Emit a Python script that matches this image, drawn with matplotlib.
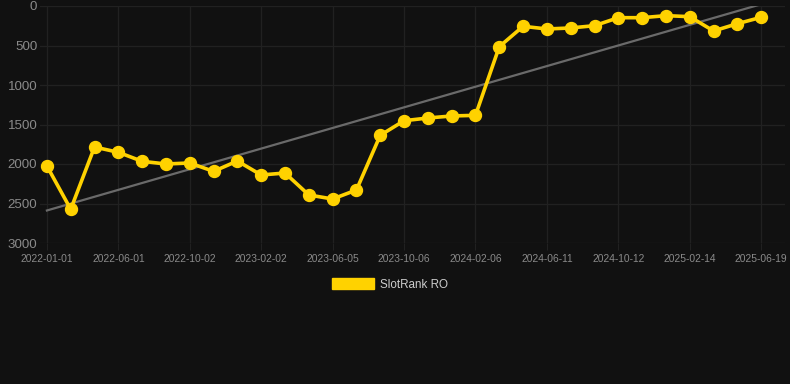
import numpy as np
import matplotlib
matplotlib.use("Agg")
import matplotlib.pyplot as plt
from matplotlib.patches import Patch

plt.rcParams['font.family'] = ['Liberation Sans', 'DejaVu Sans']

tick_labels = ["2022-01-01", "2022-06-01", "2022-10-02", "2023-02-02", "2023-06-05",
               "2023-10-06", "2024-02-06", "2024-06-11", "2024-10-12", "2025-02-14",
               "2025-06-19"]
rank_values = [2025, 2573, 1785, 1852, 1966, 2000, 1987, 2093, 1962, 2139, 2114,
               2392, 2443, 2329, 1637, 1452, 1418, 1392, 1384, 515, 257, 291, 278,
               249, 148, 148, 122, 135, 316, 224, 143]
series_name = "SlotRank RO"

bg = "#111111"
gold = "#FFD200"
grid_c = "#212121"
text_c = "#8a8a8a"

fig = plt.figure(figsize=(7.9, 3.84), dpi=100, facecolor=bg)
ax = fig.add_axes([40/790, (384-243)/384, 745/790, 237/384], facecolor=bg)

x = np.arange(len(rank_values))
y = np.array(rank_values, dtype=float)

# trend line (least squares)
k, b = np.polyfit(x, y, 1)
ax.plot([x[0], x[-1]], [k*x[0]+b, k*x[-1]+b], color="#6a6a6a", lw=1.6, zorder=2)

ax.plot(x, y, color=gold, lw=2.6, marker='o', markersize=8.6,
        markerfacecolor=gold, markeredgecolor=gold, zorder=3)

ax.set_ylim(3000, 0)
ax.set_xlim(-0.29, 31.0)
ax.set_yticks([0, 500, 1000, 1500, 2000, 2500, 3000])
tick_pos = np.arange(0, len(rank_values), 3)
ax.set_xticks(tick_pos)
ax.set_xticklabels(tick_labels)

ax.grid(True, color=grid_c, lw=0.9)
ax.set_axisbelow(True)
for s in ax.spines.values():
    s.set_visible(False)
ax.tick_params(axis='y', length=0, pad=2, labelsize=9.6, labelcolor=text_c)
ax.tick_params(axis='x', length=5, color=grid_c, pad=3, labelsize=7.4, labelcolor=text_c)

leg = fig.legend(handles=[Patch(facecolor=gold, edgecolor=gold, label=series_name)],
                 loc='center', bbox_to_anchor=(390/790, 1 - 284.5/384),
                 frameon=False, fontsize=8.4, labelcolor="#cccccc",
                 handlelength=3.6, handleheight=1.0, handletextpad=0.6)

fig.savefig("out.png", dpi=100, facecolor=bg)
